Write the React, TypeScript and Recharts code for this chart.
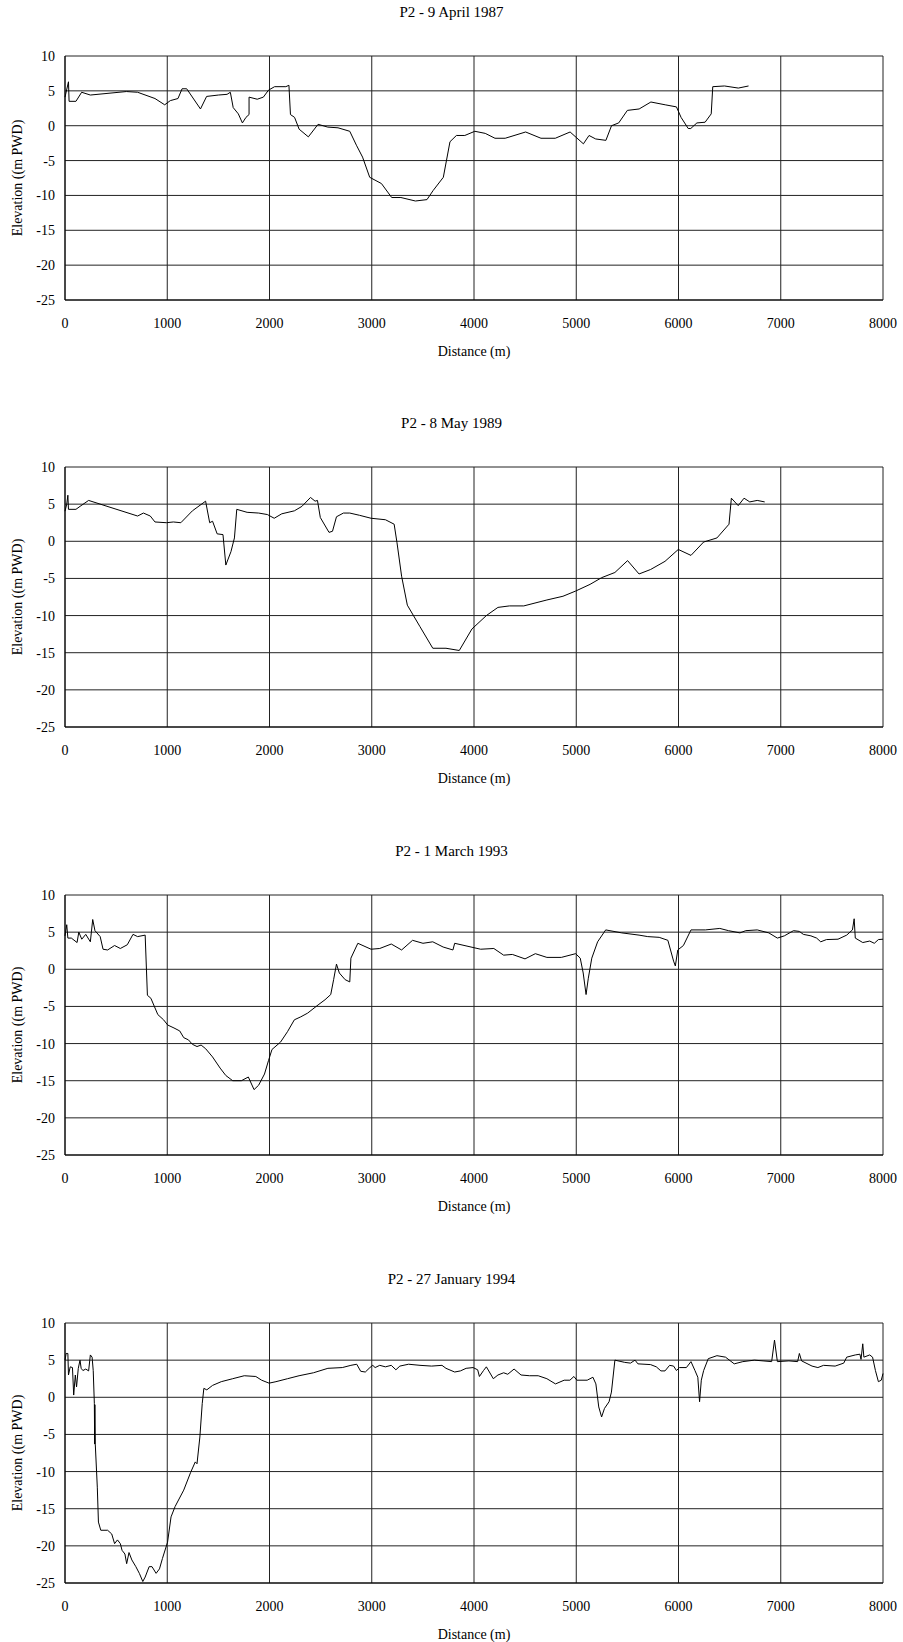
import React from 'react';
import { LineChart, Line, XAxis, YAxis, CartesianGrid, Label } from 'recharts';

const xTicks = [0, 1000, 2000, 3000, 4000, 5000, 6000, 7000, 8000];
const yTicks = [-25, -20, -15, -10, -5, 0, 5, 10];

const dist1987 = [0, 34, 40, 107, 163, 248, 600, 710, 880, 975, 1030, 1105, 1145, 1190, 1325, 1385, 1500, 1585, 1617, 1645, 1695, 1735, 1770, 1800, 1800, 1880, 1940, 1990, 2050, 2160, 2190, 2205, 2245, 2290, 2380, 2475, 2570, 2670, 2785, 2850, 2910, 2980, 3095, 3195, 3285, 3427, 3540, 3600, 3700, 3765, 3828, 3910, 4008, 4110, 4205, 4305, 4505, 4655, 4795, 4940, 5070, 5125, 5190, 5290, 5345, 5415, 5500, 5615, 5730, 5870, 5980, 6025, 6095, 6120, 6180, 6260, 6320, 6335, 6450, 6585, 6685];
const elev1987 = [4.1, 6.3, 3.5, 3.5, 4.8, 4.4, 4.9, 4.8, 3.9, 3.0, 3.6, 3.9, 5.3, 5.3, 2.4, 4.2, 4.4, 4.5, 4.8, 2.6, 1.7, 0.4, 1.2, 1.6, 4.1, 3.8, 4.1, 5.1, 5.6, 5.6, 5.8, 1.6, 1.2, -0.5, -1.6, 0.2, -0.2, -0.3, -0.8, -2.8, -4.5, -7.4, -8.3, -10.3, -10.3, -10.8, -10.6, -9.3, -7.4, -2.3, -1.4, -1.4, -0.8, -1.1, -1.8, -1.8, -0.9, -1.8, -1.8, -0.9, -2.6, -1.4, -1.9, -2.1, 0.0, 0.4, 2.2, 2.4, 3.4, 3.0, 2.7, 1.2, -0.4, -0.4, 0.4, 0.5, 1.7, 5.6, 5.7, 5.4, 5.7];

const dist1989 = [0, 17, 28, 34, 107, 147, 231, 710, 767, 834, 880, 992, 1060, 1133, 1246, 1375, 1415, 1443, 1488, 1545, 1573, 1623, 1657, 1680, 1781, 1894, 1979, 2046, 2120, 2243, 2317, 2401, 2446, 2469, 2497, 2582, 2616, 2655, 2723, 2785, 2880, 2993, 3134, 3219, 3247, 3292, 3348, 3472, 3597, 3726, 3856, 3980, 4121, 4234, 4346, 4487, 4713, 4870, 4994, 5135, 5248, 5378, 5502, 5614, 5727, 5868, 5998, 6122, 6246, 6376, 6494, 6517, 6584, 6641, 6697, 6770, 6843];
const elev1989 = [4.05, 5.0, 6.2, 4.3, 4.3, 4.7, 5.5, 3.4, 3.8, 3.4, 2.6, 2.5, 2.6, 2.5, 4.1, 5.4, 2.5, 2.7, 1.0, 0.9, -3.2, -1.4, 0.45, 4.3, 3.9, 3.8, 3.6, 3.1, 3.7, 4.1, 4.7, 5.9, 5.4, 5.5, 3.2, 1.2, 1.35, 3.3, 3.8, 3.8, 3.5, 3.1, 2.9, 2.3, -0.2, -4.7, -8.6, -11.5, -14.4, -14.4, -14.7, -11.8, -10.0, -8.9, -8.7, -8.7, -7.9, -7.4, -6.7, -5.8, -4.9, -4.2, -2.6, -4.4, -3.8, -2.7, -1.1, -1.9, -0.1, 0.45, 2.3, 5.8, 4.8, 5.8, 5.3, 5.5, 5.3];

const dist1993 = [0, 17, 28, 62, 118, 135, 164, 203, 248, 271, 293, 344, 372, 417, 485, 541, 609, 665, 710, 784, 806, 840, 908, 964, 1004, 1066, 1122, 1161, 1207, 1246, 1291, 1331, 1376, 1443, 1517, 1573, 1640, 1725, 1793, 1849, 1894, 1951, 1990, 2024, 2108, 2176, 2243, 2306, 2373, 2475, 2543, 2599, 2627, 2655, 2683, 2740, 2785, 2796, 2864, 2993, 3078, 3191, 3292, 3399, 3501, 3597, 3698, 3794, 3811, 4065, 4194, 4290, 4375, 4499, 4600, 4713, 4854, 4994, 5039, 5068, 5096, 5118, 5152, 5209, 5288, 5445, 5614, 5699, 5811, 5896, 5952, 5969, 5993, 6048, 6122, 6263, 6404, 6489, 6601, 6658, 6770, 6883, 6967, 7035, 7125, 7182, 7221, 7295, 7351, 7391, 7447, 7560, 7645, 7701, 7718, 7729, 7802, 7870, 7915, 7955, 8000];
const elev1993 = [4.5, 6.0, 4.2, 4.2, 3.6, 5.0, 4.05, 4.7, 3.7, 6.7, 5.2, 4.4, 2.7, 2.6, 3.2, 2.8, 3.3, 4.7, 4.4, 4.6, -3.5, -3.9, -6.1, -6.8, -7.5, -7.9, -8.3, -9.2, -9.5, -10.1, -10.4, -10.2, -10.7, -11.8, -13.3, -14.3, -15.0, -15.0, -14.5, -16.2, -15.6, -14.1, -12.3, -10.8, -9.8, -8.4, -6.8, -6.4, -5.9, -4.8, -4.1, -3.4, -1.4, 0.7, -0.5, -1.4, -1.7, 1.5, 3.5, 2.7, 2.8, 3.4, 2.6, 3.9, 3.5, 3.7, 3.0, 2.6, 3.5, 2.7, 2.8, 1.9, 2.0, 1.4, 2.1, 1.6, 1.6, 2.1, 1.5, -0.5, -3.4, -1.2, 1.5, 3.7, 5.3, 4.9, 4.6, 4.4, 4.3, 3.9, 1.1, 0.45, 2.6, 3.2, 5.3, 5.3, 5.5, 5.2, 4.9, 5.2, 5.3, 4.9, 4.2, 4.5, 5.2, 5.1, 4.7, 4.5, 4.2, 3.7, 4.0, 4.05, 4.6, 5.3, 6.8, 4.2, 3.6, 3.8, 3.5, 4.0, 4.05];

const dist1994 = [0, 11, 28, 34, 51, 73, 85, 101, 113, 130, 147, 158, 175, 203, 231, 248, 265, 276, 287, 290, 292, 296, 316, 327, 350, 417, 457, 485, 513, 541, 558, 586, 603, 626, 654, 693, 727, 761, 784, 823, 851, 891, 924, 953, 1003, 1037, 1077, 1161, 1229, 1274, 1291, 1319, 1342, 1358, 1387, 1443, 1528, 1640, 1753, 1866, 1923, 1996, 2063, 2176, 2289, 2430, 2571, 2712, 2796, 2853, 2892, 2937, 2982, 3010, 3033, 3078, 3134, 3191, 3236, 3275, 3360, 3472, 3585, 3687, 3726, 3811, 3867, 3923, 3991, 4036, 4053, 4093, 4121, 4189, 4234, 4290, 4330, 4392, 4460, 4544, 4628, 4713, 4797, 4882, 4938, 4977, 5006, 5107, 5163, 5192, 5220, 5248, 5276, 5321, 5344, 5378, 5474, 5530, 5575, 5603, 5727, 5783, 5828, 5868, 5913, 5952, 5980, 6009, 6077, 6122, 6161, 6189, 6206, 6223, 6246, 6291, 6376, 6460, 6545, 6629, 6742, 6827, 6911, 6939, 6967, 7080, 7165, 7182, 7204, 7306, 7363, 7419, 7532, 7616, 7645, 7729, 7774, 7785, 7802, 7813, 7870, 7898, 7926, 7955, 7983, 8000];
const elev1994 = [5.0, 5.9, 5.9, 3.0, 4.1, 4.0, 0.3, 3.0, 1.4, 3.9, 5.0, 3.9, 3.6, 3.8, 3.55, 5.7, 5.4, 3.6, -0.85, -6.3, -1.0, -6.3, -12.1, -16.8, -17.9, -17.9, -18.4, -19.7, -19.2, -19.7, -20.6, -21.1, -22.4, -20.9, -21.9, -22.8, -23.7, -24.8, -24.2, -22.8, -22.8, -23.7, -23.1, -21.7, -19.5, -16.1, -14.7, -12.5, -10.1, -8.7, -8.95, -5.35, -0.85, 1.2, 1.0, 1.6, 2.1, 2.5, 2.9, 2.8, 2.3, 1.9, 2.1, 2.5, 2.9, 3.3, 3.9, 4.0, 4.3, 4.45, 3.5, 3.4, 4.0, 4.3, 4.0, 4.3, 4.1, 4.3, 3.7, 4.2, 4.45, 4.3, 4.2, 4.3, 3.9, 3.4, 3.55, 3.9, 4.0, 3.7, 2.8, 3.6, 4.1, 2.5, 3.0, 3.3, 3.1, 3.8, 3.0, 2.9, 2.9, 2.5, 1.8, 2.3, 2.3, 2.8, 2.3, 2.3, 2.7, 1.8, -1.3, -2.65, -1.5, -0.6, 0.7, 5.0, 4.7, 4.6, 5.0, 4.5, 4.4, 4.1, 3.55, 3.55, 4.3, 4.2, 3.6, 4.0, 4.0, 4.8, 3.6, 2.7, -0.6, 2.3, 3.6, 5.2, 5.6, 5.4, 4.5, 4.8, 5.0, 4.9, 4.8, 7.7, 4.8, 4.9, 4.8, 5.9, 4.9, 4.2, 4.0, 4.3, 4.2, 4.6, 5.4, 5.7, 5.8, 5.1, 7.2, 5.4, 5.7, 5.4, 3.6, 2.1, 2.3, 3.2];

const FONT = '"Liberation Serif", "Times New Roman", serif';

function toRows(dist: number[], elev: number[]) {
  return dist.map((d, i) => ({ distance: d, elevation: elev[i] }));
}

function Profile({ title, dist, elev, plotTop, plotHeight }: {
  title: string; dist: number[]; elev: number[]; plotTop: number; plotHeight: number;
}) {
  const rows = toRows(dist, elev);
  return (
    <>
      <div style={{ position: 'absolute', left: 0, width: 903, top: plotTop - 53, textAlign: 'center', fontFamily: FONT, fontSize: 15, lineHeight: '18px', color: '#000' }}>
        {title}
      </div>
      <div style={{ position: 'absolute', left: 0, top: plotTop - 10 }}>
        <LineChart width={903} height={plotHeight + 70} data={rows} margin={{ top: 10, right: 20, bottom: 0, left: 5 }} style={{ fontFamily: FONT }}>
          <CartesianGrid stroke="#222" strokeWidth={1} />
          <XAxis
            dataKey="distance"
            type="number"
            domain={[0, 8000]}
            ticks={xTicks}
            height={60}
            tickLine={false}
            tickSize={0}
            tickMargin={18}
            axisLine={{ stroke: '#000' }}
            tick={{ fontSize: 14, fill: '#000', fontFamily: FONT }}
          >
            <Label value="Distance (m)" position="insideBottom" offset={4} style={{ fontSize: 14, fill: '#000', fontFamily: FONT }} />
          </XAxis>
          <YAxis
            type="number"
            domain={[-25, 10]}
            ticks={yTicks}
            width={60}
            tickLine={false}
            tickSize={0}
            tickMargin={10}
            axisLine={{ stroke: '#000' }}
            tick={{ fontSize: 14, fill: '#000', fontFamily: FONT }}
          >
            <Label value="Elevation ((m PWD)" angle={-90} position="insideLeft" offset={12} style={{ textAnchor: 'middle', fontSize: 14, fill: '#000', fontFamily: FONT }} />
          </YAxis>
          <Line type="linear" dataKey="elevation" stroke="#000" strokeWidth={1} dot={false} isAnimationActive={false} />
        </LineChart>
      </div>
    </>
  );
}

export default function App() {
  return (
    <div style={{ position: 'absolute', left: 0, top: 0, width: 903, height: 1642, overflow: 'hidden', background: '#fff' }}>
      <Profile title="P2 - 9 April 1987" dist={dist1987} elev={elev1987} plotTop={56} plotHeight={244} />
      <Profile title="P2 - 8 May 1989" dist={dist1989} elev={elev1989} plotTop={467} plotHeight={260} />
      <Profile title="P2 - 1 March 1993" dist={dist1993} elev={elev1993} plotTop={895} plotHeight={260} />
      <Profile title="P2 - 27 January 1994" dist={dist1994} elev={elev1994} plotTop={1323} plotHeight={260} />
    </div>
  );
}
